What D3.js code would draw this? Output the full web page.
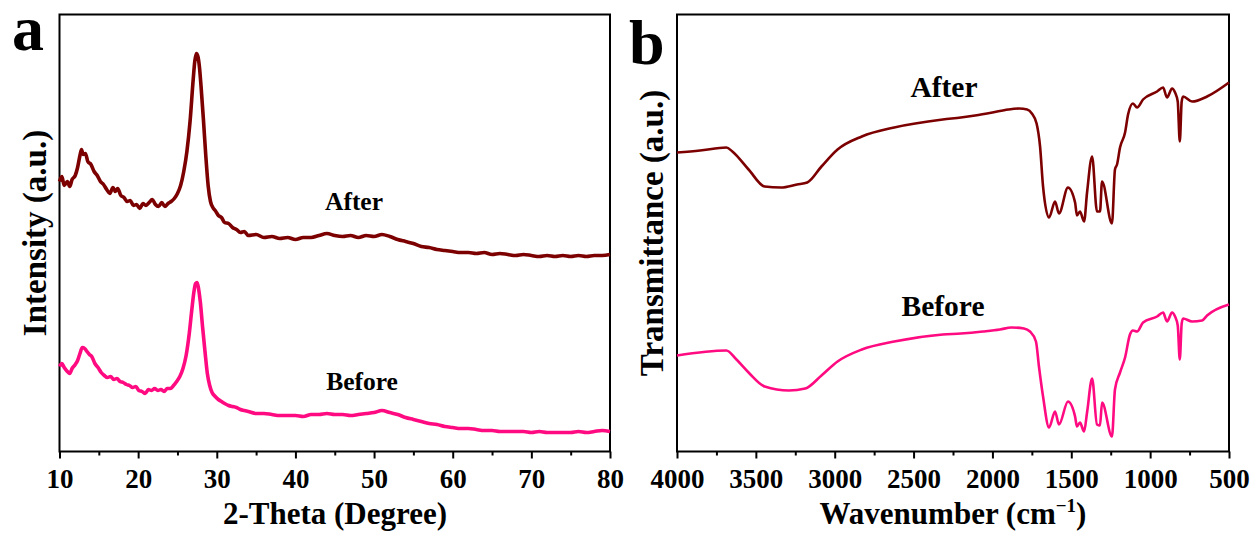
<!DOCTYPE html>
<html>
<head>
<meta charset="utf-8">
<script src="https://cdn.jsdelivr.net/npm/d3@7"></script>
<style>
  body { margin: 0; background: #fff; }
  svg text { font-family: "Liberation Serif", "Times New Roman", serif; font-weight: bold; }
</style>
</head>
<body>
<svg width="1253" height="536"></svg>
<script>
// ---- panel a : XRD (2-theta, intensity a.u.)
const xrdTicks = [10, 20, 30, 40, 50, 60, 70, 80];
const xrdMinor = [15, 25, 35, 45, 55, 65, 75];

const afterTheta = [10.0, 10.3, 10.6, 11.0, 11.3, 11.6, 12.0, 12.3, 12.6, 12.8, 13.0, 13.3, 13.6, 14.0, 14.4, 14.8, 15.2, 15.6, 16.0, 16.4, 16.8, 17.1, 17.4, 17.8, 18.2, 18.6, 19.0, 19.4, 19.8, 20.2, 20.6, 21.0, 21.4, 21.8, 22.2, 22.6, 23.0, 23.4, 23.8, 24.2, 24.6, 25.0, 25.4, 25.8, 26.2, 26.6, 27.0, 27.2, 27.4, 27.6, 27.8, 28.0, 28.3, 28.6, 28.9, 29.2, 29.5, 29.8, 30.2, 30.6, 31.0, 31.5, 32.0, 32.5, 33.0, 33.5, 34.0, 35, 36, 37, 38, 39, 40, 41, 42, 43, 44, 45, 46, 47, 48, 49, 50, 51, 52, 53, 54, 55, 56, 57, 58, 59, 60, 61, 62, 63, 64, 65, 66, 67, 68, 69, 70, 71, 72, 73, 74, 75, 76, 77, 78, 79, 80];
const afterInt = [270, 275, 266, 270, 265, 272, 276, 284, 296, 302, 297, 298, 290, 287, 280, 276, 270, 267, 262, 258, 264, 260, 263, 256, 254, 250, 251, 246, 247, 243, 248, 246, 249, 252, 247, 245, 249, 245, 248, 250, 253, 258, 266, 280, 300, 330, 372, 390, 398, 395, 384, 365, 332, 296, 266, 250, 244, 241, 236, 234, 229, 228, 224, 222, 219, 220, 216, 217, 214, 215, 213, 214, 212, 214, 214, 216, 218, 216, 215, 216, 214, 216, 215, 217, 215, 212, 210, 208, 205, 204, 202, 201, 200, 199, 199, 198, 199, 197, 198, 197, 196, 197, 196, 195, 196, 195, 196, 195, 196, 195, 196, 196, 197];

const beforeTheta = [10.0, 10.3, 10.6, 11.0, 11.3, 11.6, 12.0, 12.3, 12.6, 12.9, 13.2, 13.5, 13.8, 14.1, 14.5, 14.9, 15.3, 15.7, 16.1, 16.5, 16.9, 17.3, 17.7, 18.1, 18.5, 18.9, 19.3, 19.7, 20.1, 20.5, 20.9, 21.3, 21.7, 22.1, 22.5, 22.9, 23.3, 23.7, 24.1, 24.5, 24.9, 25.3, 25.7, 26.1, 26.5, 26.8, 27.1, 27.3, 27.5, 27.7, 27.9, 28.2, 28.5, 28.8, 29.1, 29.4, 29.8, 30.2, 30.6, 31.0, 31.5, 32.0, 32.5, 33.0, 33.5, 34.0, 35, 36, 37, 38, 39, 40, 41, 42, 43, 44, 45, 46, 47, 48, 49, 50, 51, 52, 53, 54, 55, 56, 57, 58, 59, 60, 61, 62, 63, 64, 65, 66, 67, 68, 69, 70, 71, 72, 73, 74, 75, 76, 77, 78, 79, 80];
const beforeInt = [85, 88, 84, 80, 78, 83, 87, 91, 98, 104, 103, 100, 97, 95, 88, 84, 79, 76, 74, 75, 72, 73, 70, 69, 67, 66, 64, 65, 61, 60, 58, 62, 61, 63, 61, 62, 60, 63, 63, 66, 70, 75, 83, 96, 118, 140, 160, 168, 169, 162, 150, 124, 100, 78, 66, 59, 55, 52, 50, 48, 46, 45, 44, 42, 41, 40, 38, 38, 37, 36, 36, 36, 35, 37, 37, 38, 37, 37, 36, 37, 38, 39, 41, 39, 37, 34, 32, 30, 28, 27, 25, 24, 23, 23, 22, 21, 21, 20, 20, 20, 20, 19, 20, 19, 19, 19, 19, 20, 19, 20, 21, 20];

// ---- panel b : FTIR (wavenumber, transmittance a.u.)
const ftirTicks = [4000, 3500, 3000, 2500, 2000, 1500, 1000, 500];
const ftirMinor = [3750, 3250, 2750, 2250, 1750, 1250, 750];

const afterWn = [4000, 3854, 3687, 3649, 3546, 3444, 3341, 3239, 3174, 3084, 2982, 2828, 2623, 2315, 2200, 2110, 2000, 1900, 1830, 1780, 1750, 1720, 1698, 1679, 1641, 1603, 1578, 1521, 1476, 1464, 1445, 1419, 1400, 1368, 1337, 1318, 1305, 1242, 1223, 1210, 1191, 1159, 1140, 1109, 1083, 1045, 956, 918, 893, 861, 842, 825, 812, 800, 791, 734, 639, 500];
const afterT = [299, 301, 304, 300, 282, 265, 264, 267, 269, 285, 302, 315, 324, 332, 334, 336, 339, 342, 343, 342, 338, 328, 305, 265, 234, 250, 238, 264, 249, 236, 240, 230, 259, 295, 240, 240, 270, 228, 282, 287, 304, 319, 337, 348, 344, 352, 360, 364, 354, 363, 359, 350, 310, 350, 355, 350, 355, 369];

const beforeWn = [4000, 3687, 3623, 3546, 3444, 3290, 3187, 3084, 2982, 2828, 2623, 2315, 2200, 2060, 1952, 1880, 1800, 1762, 1724, 1705, 1679, 1641, 1603, 1578, 1521, 1476, 1464, 1445, 1419, 1400, 1368, 1337, 1318, 1305, 1242, 1223, 1191, 1159, 1128, 1109, 1083, 1045, 956, 918, 893, 861, 842, 825, 812, 800, 791, 734, 671, 639, 500];
const beforeT = [96, 101, 92, 79, 65, 61, 63, 76, 90, 102, 110, 117, 118, 120, 122, 124, 123, 120, 110, 85, 55, 24, 40, 27, 50, 35, 25, 29, 20, 39, 73, 27, 26, 49, 15, 62, 79, 94, 117, 121, 120, 129, 135, 139, 130, 139, 135, 126, 92, 128, 133, 130, 131, 136, 147];

const colAfter = "#7d0000";
const colBefore = "#ff0a80";

const plotTop = 14.5, plotBottom = 451.5;

function drawChart() {
  const svg = d3.select("svg");
  svg.append("rect").attr("width", 1253).attr("height", 536).attr("fill", "#fff");

  // panel a
  let xA = d3.scaleLinear().domain([10, 80]).range([59.5, 610]);
  let yA = d3.scaleLinear().domain([0, 437]).range([plotBottom, plotTop]);
  drawPanel(svg, xA, xrdTicks, xrdMinor);
  addLine(svg, xA, yA, afterTheta, afterInt, colAfter, 3.6);
  addLine(svg, xA, yA, beforeTheta, beforeInt, colBefore, 3.6);

  // panel b -- x is reversed (4000 on the left)
  let xB = d3.scaleLinear().domain([4000, 500]).range([677, 1229]);
  let yB = d3.scaleLinear().domain([0, 437]).range([plotBottom, plotTop]);
  drawPanel(svg, xB, ftirTicks, ftirMinor);
  addLine(svg, xB, yB, afterWn, afterT, colAfter, 2.6);
  addLine(svg, xB, yB, beforeWn, beforeT, colBefore, 2.6);

  // labels
  label(svg, "a", 12, 50, 64, "start");
  label(svg, "b", 629, 64, 64, "start");
  label(svg, "After", 354, 210, 25.5, "middle");
  label(svg, "Before", 362, 390, 25.5, "middle");
  label(svg, "After", 944, 97, 29.5, "middle");
  label(svg, "Before", 943, 316, 29.5, "middle");

  label(svg, "2-Theta (Degree)", 335, 524, 31, "middle");
  let wl = label(svg, "Wavenumber (cm", 953, 524, 31, "middle");
  wl.append("tspan").attr("dy", -12).attr("font-size", 19).text("\u22121");
  wl.append("tspan").attr("dy", 12).text(")");

  svg.append("text")
    .attr("transform", "translate(46," + (plotTop + plotBottom) / 2 + ") rotate(-90)")
    .attr("text-anchor", "middle").attr("font-size", 33)
    .text("Intensity (a.u.)");
  svg.append("text")
    .attr("transform", "translate(663," + (plotTop + plotBottom) / 2 + ") rotate(-90)")
    .attr("text-anchor", "middle").attr("font-size", 33)
    .text("Transmittance (a.u.)");
}

function drawPanel(svg, x, ticks, minor) {
  let g = svg.append("g").attr("transform", "translate(0," + plotBottom + ")");
  g.call(d3.axisBottom(x).tickValues(ticks).tickFormat(d3.format("d"))
      .tickSize(7).tickPadding(10).tickSizeOuter(0))
    .call(a => a.select(".domain").remove());
  // axis sets sans-serif on the group, force the serif face on the labels
  g.selectAll("text")
    .style("font-family", "'Liberation Serif', 'Times New Roman', serif")
    .style("font-weight", "bold")
    .style("font-size", "27px")
    .attr("fill", "#000");
  g.selectAll("line").attr("stroke-width", 2).attr("stroke", "#000");

  let gm = svg.append("g").attr("transform", "translate(0," + plotBottom + ")");
  gm.call(d3.axisBottom(x).tickValues(minor).tickSize(4).tickFormat(""))
    .call(a => a.select(".domain").remove());
  gm.selectAll("line").attr("stroke-width", 2).attr("stroke", "#000");

  let r = x.range();
  svg.append("rect")
    .attr("x", r[0]).attr("y", plotTop)
    .attr("width", r[1] - r[0]).attr("height", plotBottom - plotTop)
    .attr("fill", "none").attr("stroke", "#000").attr("stroke-width", 2);
}

function addLine(svg, x, y, xs, ys, color, w) {
  let pts = xs.map((d, i) => [d, ys[i]]);
  let line = d3.line()
    .x(d => x(d[0]))
    .y(d => y(d[1]))
    .curve(d3.curveMonotoneX);
  svg.append("path")
    .datum(pts)
    .attr("d", line)
    .attr("fill", "none")
    .attr("stroke", color)
    .attr("stroke-width", w)
    .attr("stroke-linejoin", "round");
}

function label(svg, txt, x, y, size, anchor) {
  return svg.append("text")
    .attr("x", x).attr("y", y)
    .attr("font-size", size)
    .attr("text-anchor", anchor)
    .text(txt);
}

drawChart();
</script>
</body>
</html>
